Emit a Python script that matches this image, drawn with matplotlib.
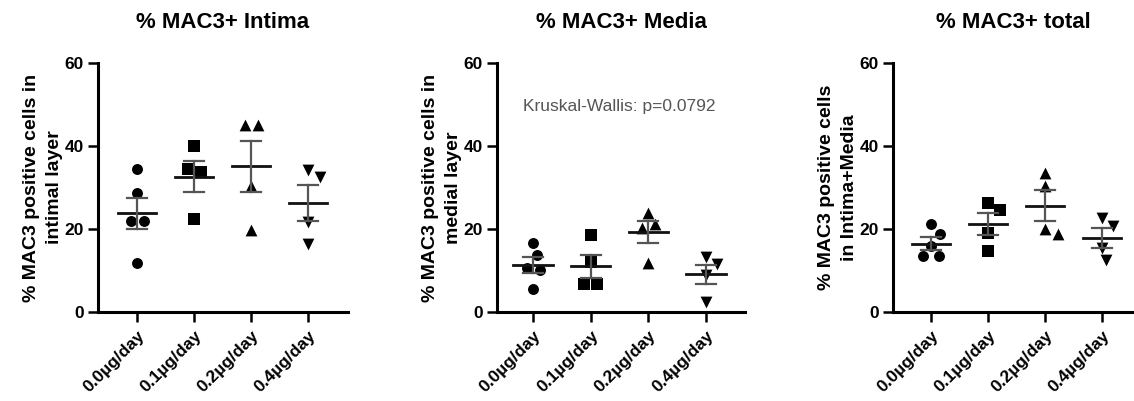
import numpy as np
import matplotlib
matplotlib.use("Agg")
import matplotlib.pyplot as plt

plt.rcParams['font.family'] = ['Liberation Sans', 'DejaVu Sans']

groups = ["0.0µg/day", "0.1µg/day", "0.2µg/day", "0.4µg/day"]
yticks = [0, 20, 40, 60]

titles = ["% MAC3+ Intima", "% MAC3+ Media", "% MAC3+ total"]
ylabels = ["% MAC3 positive cells in\nintimal layer",
           "% MAC3 positive cells in\nmedial layer",
           "% MAC3 positive cells\nin Intima+Media"]

intima_00 = [34.4, 28.7, 21.9, 21.9, 11.9]
intima_01 = [39.9, 34.4, 33.8, 22.5]
intima_02 = [45.1, 45.1, 30.4, 19.7]
intima_04 = [34.1, 32.6, 21.7, 16.5]

media_00 = [16.7, 13.7, 10.5, 10.2, 5.6]
media_01 = [18.5, 12.1, 6.8, 6.8]
media_02 = [23.8, 21.1, 20.3, 11.8]
media_04 = [13.2, 11.5, 9.0, 2.5]

total_00 = [21.1, 18.7, 15.9, 13.4, 13.4]
total_01 = [26.2, 24.6, 19.1, 14.7]
total_02 = [33.6, 30.4, 19.9, 18.7]
total_04 = [22.7, 20.8, 15.5, 12.5]

panels = [
    [intima_00, intima_01, intima_02, intima_04],
    [media_00, media_01, media_02, media_04],
    [total_00, total_01, total_02, total_04],
]
annotation = "Kruskal-Wallis: p=0.0792"

markers = ['o', 's', '^', 'v']
msizes = {'o': 62, 's': 72, '^': 72, 'v': 72}

W, H = 1134, 401
fig = plt.figure(figsize=(W / 100, H / 100), dpi=100)

# axes layout in pixels: (left, right, first tick px, tick spacing px)
layout = [(98, 348, 137, 57.0), (497, 745, 533, 57.7), (893, 1134, 931, 57.0)]
top_px, bot_px = 63, 312


def swarm(vals, xscale, yscale, diam=13.0):
    n = len(vals)
    placed = []
    offs = np.zeros(n)
    cands = [0.0]
    for k in range(1, 60):
        cands += [k * 0.5, -k * 0.5]
    for i in range(n):
        y = vals[i] * yscale
        for c in cands:
            if all((px - c) ** 2 + (py - y) ** 2 >= diam ** 2 for (px, py) in placed):
                offs[i] = c
                placed.append((c, y))
                break
    # centre near-tied rows
    order = np.argsort(vals)
    rows, cur = [], [order[0]]
    for a, b in zip(order[:-1], order[1:]):
        if (vals[b] - vals[a]) * yscale < 4:
            cur.append(b)
        else:
            rows.append(cur)
            cur = [b]
    rows.append(cur)
    for r in rows:
        if len(r) > 1:
            offs[r] -= offs[r].mean()
    return offs / xscale


for p, (l, r, t0, sp) in enumerate(layout):
    ax = fig.add_axes([l / W, (H - bot_px) / H, (r - l) / W, (bot_px - top_px) / H])
    ax.set_xlim((l - t0) / sp, (r - t0) / sp)
    ax.set_ylim(0, 60)
    yscale = (bot_px - top_px) / 60.0
    for g, vals in enumerate(panels[p]):
        vals = np.array(vals, dtype=float)
        offs = swarm(vals, sp, yscale)
        ax.scatter(g + offs, vals, marker=markers[g], s=msizes[markers[g]],
                   color='black', zorder=3, linewidths=0, clip_on=False)
        m = vals.mean()
        sem = vals.std(ddof=1) / np.sqrt(len(vals))
        ax.plot([g - 0.34, g + 0.34], [m, m], color='#111111', lw=2.0, zorder=4)
        ax.plot([g, g], [m - sem, m + sem], color='#555555', lw=1.6, zorder=4)
        ax.plot([g - 0.175, g + 0.175], [m + sem, m + sem], color='#555555', lw=1.6, zorder=4)
        ax.plot([g - 0.175, g + 0.175], [m - sem, m - sem], color='#555555', lw=1.6, zorder=4)

    for s in ['top', 'right']:
        ax.spines[s].set_visible(False)
    for s in ['left', 'bottom']:
        ax.spines[s].set_linewidth(2.2)
    ax.set_yticks(yticks)
    ax.set_xticks(range(len(groups)))
    ax.set_xticklabels(groups, rotation=45, ha='right', rotation_mode='anchor',
                       fontsize=11.5, fontweight='bold')
    ax.tick_params(axis='both', width=1.8, length=7.5, labelsize=12.5, pad=2.5)
    for lab in ax.get_yticklabels():
        lab.set_fontweight('bold')
    ax.tick_params(axis='x', pad=4)
    fig.text((l + r) / 2 / W, (H - 22) / H, titles[p], ha='center', va='center',
             fontsize=16, fontweight='bold')
    ax.set_ylabel(ylabels[p], fontsize=14, fontweight='bold', linespacing=1.5, labelpad=1)
    if p == 1:
        ax.text(1.5, 49.5, annotation, ha='center', va='center', fontsize=12.5, color='#555555')

fig.savefig("out.png", dpi=100)
